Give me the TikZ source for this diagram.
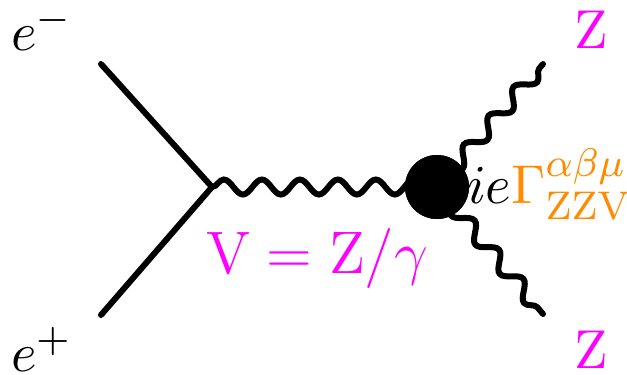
\documentclass[tikz,border=0pt]{standalone}
\usepackage{tikz}
\usetikzlibrary{decorations.pathmorphing}
\definecolor{bosonpink}{RGB}{255,0,255}
\definecolor{vertexorange}{RGB}{255,140,0}
\tikzset{
  fermion/.style={line width=1.2pt, line cap=round},
  boson/.style={
    line width=1.2pt, line cap=round, decorate,
    decoration={snake, amplitude=1.5pt, segment length=7.6pt}
  },
  blob/.style={circle, fill=black, minimum size=12.8pt, inner sep=0pt},
  lbl/.style={anchor=base west, inner sep=0pt, font=\fontsize{11}{13}\selectfont}
}

\begin{document}
\begin{tikzpicture}[x=0.2pt, y=-0.2pt]
  \useasboundingbox (0,0) rectangle (627,374);
  % external legs and vertices
  \coordinate (em) at (101,64);
  \coordinate (ep) at (101,315);
  \coordinate (v) at (212,187);
  \coordinate (za) at (543,64);
  \coordinate (zb) at (543,314);
  \node[blob] (blob) at (437,187) {};

  \draw[fermion] (em) -- (v);
  \draw[fermion] (ep) -- (v);
  \draw[boson] (v) -- (blob.center);
  \draw[boson] (blob.center) -- (za);
  \draw[boson] (blob.center) -- (zb);
  \node[blob] at (blob.center) {};

  % labels
  \node[lbl] (elabel) at (10,50) {$e^-$};
  \node[lbl] (plabel) at (10,371) {$e^+$};
  \node[lbl, text=bosonpink] (zalabel) at (573,48) {$\mathrm{Z}$};
  \node[lbl, text=bosonpink] (zblabel) at (573,368) {$\mathrm{Z}$};
  \node[lbl, text=bosonpink, font=\fontsize{11.5}{13}\selectfont] (vlabel) at (205,273)
    {$\mathrm{V}=\mathrm{Z}/\gamma$};
  \node[lbl] (coupling) at (466,203)
    {$ie\color{vertexorange}\Gamma^{\alpha\beta\mu}_{\mathrm{ZZV}}$};
\end{tikzpicture}
\end{document}
